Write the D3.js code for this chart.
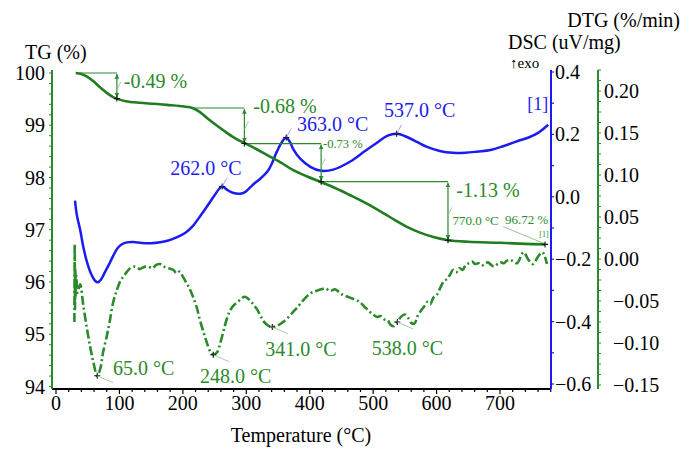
<!DOCTYPE html>
<html><head><meta charset="utf-8">
<script src="https://cdn.jsdelivr.net/npm/d3@7/dist/d3.min.js"></script>
<style>body{margin:0;background:#fff}svg{display:block}</style>
</head><body><svg id="c" width="693" height="461" font-family="'Liberation Serif','DejaVu Serif','Times New Roman',serif"></svg>
<script>
// ---------- data ----------
const tgT = [31,40,49,59,69,80,90,98,110,132,155,175,195,215,227,238,254,270,284,297,315,333,354,374,396,418,440,464,490,516,535,554,575,595,618,650,700,740,771];
const tgV = [100.0,99.98,99.93,99.84,99.73,99.62,99.54,99.50,99.46,99.43,99.41,99.39,99.37,99.33,99.25,99.14,98.99,98.85,98.74,98.66,98.55,98.43,98.29,98.14,98.02,97.91,97.80,97.66,97.50,97.32,97.18,97.05,96.94,96.86,96.80,96.77,96.75,96.73,96.72];

const dscT = [30,33,38,43,49,56,62,66,71,77,84,90,97,104,112,122,135,150,164,177,190,204,216,228,238,250,257,262,270,280,290,298,306,314,322,333,340,348,356,363,369,374,385,401,416,437,464,486,506,522,538,555,570,585,605,626,645,665,685,705,727,745,760,776];
const dscV = [-0.012,-0.06,-0.105,-0.16,-0.21,-0.25,-0.27,-0.274,-0.265,-0.242,-0.215,-0.19,-0.165,-0.152,-0.146,-0.145,-0.148,-0.149,-0.146,-0.14,-0.13,-0.115,-0.093,-0.06,-0.031,0.005,0.025,0.033,0.022,0.012,0.01,0.015,0.03,0.045,0.058,0.08,0.105,0.144,0.175,0.19,0.175,0.153,0.122,0.096,0.084,0.087,0.113,0.145,0.173,0.195,0.202,0.19,0.175,0.16,0.147,0.141,0.141,0.145,0.15,0.162,0.178,0.19,0.205,0.231];

const dtgT = [29,29.5,30,30.5,31,32,34,38,43,49,54,59,65,70,74,80,85,90,96,101,106,112,117,125,132,137,145,152,158,164,170,178,185,190,195,200,206,211,216,222,227,233,238,243,248,254,259,264,269,274,279,288,294,298,304,310,317,322,327,334,341,350,358,368,375,380,390,401,410,418,425,432,440,447,453,460,467,474,480,488,495,500,506,512,518,523,527,532,538,545,550,555,560,565,570,575,580,586,590,595,601,606,611,616,621,626,631,636,641,646,651,656,661,666,671,676,681,686,691,696,701,706,711,716,721,727,737,745,752,760,767,774];
const dtgV = [-0.075,0.017,-0.06,-0.01,-0.045,-0.02,-0.04,-0.03,-0.055,-0.084,-0.105,-0.123,-0.139,-0.13,-0.112,-0.092,-0.073,-0.052,-0.037,-0.027,-0.021,-0.015,-0.011,-0.009,-0.012,-0.010,-0.009,-0.011,-0.007,-0.006,-0.009,-0.011,-0.013,-0.017,-0.015,-0.021,-0.029,-0.036,-0.045,-0.058,-0.073,-0.088,-0.100,-0.110,-0.114,-0.111,-0.100,-0.086,-0.072,-0.062,-0.056,-0.050,-0.046,-0.045,-0.048,-0.053,-0.060,-0.067,-0.074,-0.079,-0.081,-0.079,-0.075,-0.068,-0.062,-0.058,-0.049,-0.041,-0.038,-0.036,-0.035,-0.038,-0.036,-0.040,-0.043,-0.045,-0.047,-0.049,-0.052,-0.058,-0.063,-0.066,-0.069,-0.068,-0.072,-0.073,-0.078,-0.080,-0.075,-0.068,-0.066,-0.070,-0.076,-0.077,-0.068,-0.062,-0.057,-0.051,-0.054,-0.046,-0.042,-0.034,-0.027,-0.024,-0.019,-0.013,-0.016,-0.011,-0.013,-0.007,-0.005,-0.003,-0.006,-0.005,-0.008,-0.006,-0.004,-0.007,-0.009,-0.006,-0.004,-0.005,-0.002,-0.001,-0.003,-0.005,0.008,-0.001,-0.006,0.003,0.008,-0.006];

const xTicks = [0,100,200,300,400,500,600,700];
const tgTicks = [94,95,96,97,98,99,100];
const dscTicks = [-0.6,-0.4,-0.2,0.0,0.2,0.4];
const dtgTicks = [-0.15,-0.10,-0.05,0.00,0.05,0.10,0.15,0.20];

// TG step annotations
const stepLineT0 = [35,215,297,418];
const stepArrowT = [96,297,418,618];
const stepTop = [100.0,99.33,98.65,97.92];
const stepBot = [99.51,98.65,97.92,96.79];
const stepLabels = ["-0.49 %","-0.68 %","-0.73 %","-1.13 %"];
const stepLabelT = [107,311,421,631];
const stepLabelV = [99.71,99.23,98.56,97.62];
const stepLabelSize = [20,20,12.5,20];
const tgMarkT = [96,297,418,618,771];
const tgMarkV = [99.51,98.65,97.92,96.80,96.72];

// DSC peaks
const dscPeakT = [262,363,537];
const dscPeakV = [0.033,0.19,0.202];
const dscPeakLabels = ["262.0 °C","363.0 °C","537.0 °C"];
const dscLabelT = [180,380,517];
const dscLabelV = [0.071,0.212,0.256];

// DTG minima
const dtgMinT = [65,248,341,538];
const dtgMinV = [-0.139,-0.114,-0.081,-0.075];
const dtgMinLabels = ["65.0 °C","248.0 °C","341.0 °C","538.0 °C"];
const dtgLabelT = [90,227,330,498];
const dtgLabelV = [-0.138,-0.148,-0.115,-0.114];

// ---------- drawing ----------
const svg = d3.select("#c");
const GREEN = "#2b8a2b", TGC = "#1f7d1f", BLUE = "#1c1cf0";
const x = d3.scaleLinear().domain([0,700]).range([56,500]);
const yTG = d3.scaleLinear().domain([94,100]).range([386.5,73]);
const yDSC = d3.scaleLinear().domain([-0.6,0.4]).range([384,72]);
const yDTG = d3.scaleLinear().domain([-0.15,0.20]).range([385,91]);
const pTop = 70, pBottom = 389, pLeft = 52, pRight = 551, pRight2 = 598;

// axes lines
svg.append("line").attr("x1",pLeft).attr("x2",pRight).attr("y1",pBottom).attr("y2",pBottom).attr("stroke","#000").attr("stroke-width",2);
svg.append("line").attr("x1",pLeft).attr("x2",pLeft).attr("y1",pTop).attr("y2",pBottom).attr("stroke",GREEN).attr("stroke-width",2);
svg.append("line").attr("x1",pRight).attr("x2",pRight).attr("y1",pTop).attr("y2",pBottom).attr("stroke",BLUE).attr("stroke-width",2);
svg.append("line").attr("x1",pRight2).attr("x2",pRight2).attr("y1",pTop).attr("y2",pBottom).attr("stroke",GREEN).attr("stroke-width",2);

// x ticks
const xMinor = d3.range(0,781,20);
svg.append("g").selectAll("line").data(xMinor).join("line")
  .attr("x1",d=>x(d)).attr("x2",d=>x(d)).attr("y1",pBottom).attr("y2",d=>pBottom+(d%100===0?5:3))
  .attr("stroke","#000").attr("stroke-width",1.2);
svg.append("g").selectAll("text").data(xTicks).join("text")
  .attr("x",d=>x(d)).attr("y",410).attr("text-anchor","middle").attr("font-size",20).text(d=>d);

// TG ticks
svg.append("g").selectAll("line").data(d3.range(94,100.01,0.2)).join("line")
  .attr("x1",pLeft).attr("x2",pLeft-3).attr("y1",d=>yTG(d)).attr("y2",d=>yTG(d))
  .attr("stroke",GREEN).attr("stroke-width",1);
svg.append("g").selectAll("text").data(tgTicks).join("text")
  .attr("x",45).attr("y",d=>yTG(d)+7).attr("text-anchor","end").attr("font-size",20).text(d=>d);

// DSC ticks
svg.append("g").selectAll("line").data(d3.range(-0.6,0.401,0.1)).join("line")
  .attr("x1",pRight).attr("x2",pRight+3).attr("y1",d=>yDSC(d)).attr("y2",d=>yDSC(d))
  .attr("stroke",BLUE).attr("stroke-width",1.2);
svg.append("g").selectAll("text").data(dscTicks).join("text")
  .attr("x",555).attr("y",d=>yDSC(d)+7).attr("font-size",20)
  .text(d=>d<0?"\u2212"+Math.abs(d).toFixed(1):d.toFixed(1));

// DTG ticks
svg.append("g").selectAll("line").data(d3.range(-0.15,0.2251,0.0125)).join("line")
  .attr("x1",pRight2).attr("x2",pRight2+3).attr("y1",d=>yDTG(d)).attr("y2",d=>yDTG(d))
  .attr("stroke",GREEN).attr("stroke-width",1);
svg.append("g").selectAll("text").data(dtgTicks).join("text")
  .attr("x",d=>d<0?613:604).attr("y",d=>yDTG(d)+7).attr("font-size",20)
  .text(d=>d<0?"\u2212"+Math.abs(d).toFixed(2):d.toFixed(2));

// axis titles
svg.append("text").attr("x",25).attr("y",59).attr("font-size",20).text("TG (%)");
svg.append("text").attr("x",680).attr("y",27).attr("text-anchor","end").attr("font-size",20).text("DTG (%/min)");
svg.append("text").attr("x",508).attr("y",49).attr("font-size",20).text("DSC (uV/mg)");
svg.append("text").attr("x",510).attr("y",68).attr("font-size",15).text("\u2191exo");
svg.append("text").attr("x",301).attr("y",442).attr("text-anchor","middle").attr("font-size",20).text("Temperature (°C)");

// curves
const tgData = tgT.map((t,i)=>[t,tgV[i]]);
const dscData = dscT.map((t,i)=>[t,dscV[i]]);
const dtgData = dtgT.map((t,i)=>[t,dtgV[i]]);

svg.append("path").datum(dtgData)
  .attr("d",d3.line().x(d=>x(d[0])).y(d=>yDTG(d[1])).curve(d3.curveCatmullRom))
  .attr("fill","none").attr("stroke",GREEN).attr("stroke-width",2.6).attr("stroke-dasharray","9,3,2,3");
svg.append("path").datum(dscData)
  .attr("d",d3.line().x(d=>x(d[0])).y(d=>yDSC(d[1])).curve(d3.curveCatmullRom))
  .attr("fill","none").attr("stroke",BLUE).attr("stroke-width",2.5);
svg.append("path").datum(tgData)
  .attr("d",d3.line().x(d=>x(d[0])).y(d=>yTG(d[1])).curve(d3.curveCatmullRom))
  .attr("fill","none").attr("stroke",TGC).attr("stroke-width",2.6);

// arrow markers
const defs = svg.append("defs");
["s","e"].forEach(k=>{
  defs.append("marker").attr("id","ar"+k).attr("viewBox","0 0 10 10").attr("refX",k==="e"?10:0).attr("refY",5)
    .attr("markerWidth",4).attr("markerHeight",5).attr("orient","auto")
    .append("path").attr("d",k==="e"?"M0,0 L10,5 L0,10 Z":"M10,0 L0,5 L10,10 Z").attr("fill",GREEN);
});

// step annotations
stepArrowT.forEach((t,i)=>{
  svg.append("line").attr("x1",x(stepLineT0[i])).attr("x2",x(t)).attr("y1",yTG(stepTop[i])).attr("y2",yTG(stepTop[i]))
    .attr("stroke",GREEN).attr("stroke-width",1.2);
  svg.append("line").attr("x1",x(t)).attr("x2",x(t)).attr("y1",yTG(stepTop[i])+1).attr("y2",yTG(stepBot[i])-1)
    .attr("stroke",GREEN).attr("stroke-width",1.2).attr("marker-start","url(#ars)").attr("marker-end","url(#are)");
  const mid = (yTG(stepTop[i])+yTG(stepBot[i]))/2;
  svg.append("line").attr("x1",x(t)).attr("x2",x(t)+4).attr("y1",mid+4).attr("y2",mid-4).attr("stroke","#8fbf8f").attr("stroke-width",0.8);
  svg.append("text").attr("x",x(stepLabelT[i])).attr("y",yTG(stepLabelV[i])).attr("font-size",stepLabelSize[i])
    .attr("fill",GREEN).text(stepLabels[i]);
});
// end labels
svg.append("text").attr("x",x(625)).attr("y",yTG(97.09)).attr("font-size",13).attr("fill",GREEN).text("770.0 °C");
svg.append("text").attr("x",x(708)).attr("y",yTG(97.11)).attr("font-size",13).attr("fill",GREEN).text("96.72 %");
svg.append("text").attr("x",x(762)).attr("y",yTG(96.86)).attr("font-size",8).attr("fill",GREEN).text("[1]");
svg.append("line").attr("x1",x(705)).attr("x2",x(771)).attr("y1",yTG(97.06)).attr("y2",yTG(96.73)).attr("stroke","#7fb07f").attr("stroke-width",0.8);

// crosses helper
function cross(cx,cy){
  svg.append("path").attr("d",`M${cx-3},${cy}H${cx+3}M${cx},${cy-3}V${cy+3}`).attr("stroke","#111").attr("stroke-width",1.1);
}
tgMarkT.forEach((t,i)=>cross(x(t),yTG(tgMarkV[i])));

// DSC peaks
dscPeakT.forEach((t,i)=>{
  const v = dscPeakV[i];
  cross(x(t),yDSC(v));
  svg.append("line").attr("x1",x(t)).attr("x2",x(t)+5).attr("y1",yDSC(v)).attr("y2",yDSC(v)-9).attr("stroke","#8a8af5").attr("stroke-width",0.8);
  svg.append("text").attr("x",x(dscLabelT[i])).attr("y",yDSC(dscLabelV[i])).attr("font-size",20).attr("fill",BLUE).text(dscPeakLabels[i]);
});
svg.append("text").attr("x",x(743)).attr("y",yDSC(0.279)).attr("font-size",18).attr("fill",BLUE).text("[1]");

// DTG minima
dtgMinT.forEach((t,i)=>{
  const v = dtgMinV[i];
  cross(x(t),yDTG(v));
  svg.append("line").attr("x1",x(t)).attr("x2",x(t)+16).attr("y1",yDTG(v)).attr("y2",yDTG(v)+7).attr("stroke","#8fbf8f").attr("stroke-width",0.8);
  svg.append("text").attr("x",x(dtgLabelT[i])).attr("y",yDTG(dtgLabelV[i])).attr("font-size",20).attr("fill",GREEN).text(dtgMinLabels[i]);
});
</script></body></html>
